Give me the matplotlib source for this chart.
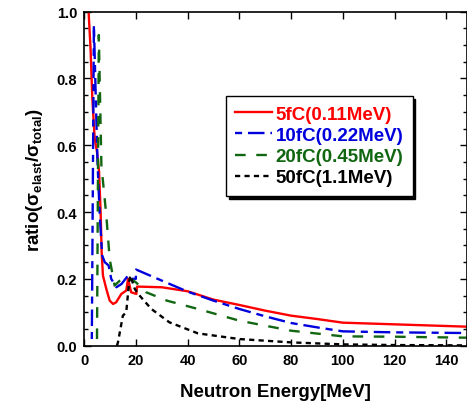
#!/usr/bin/env python3

# Import special modules ...
import matplotlib
matplotlib.use("Agg")
import matplotlib.pyplot

matplotlib.pyplot.rcParams["font.family"] = ["Liberation Sans", "DejaVu Sans"]
matplotlib.pyplot.rcParams["font.weight"] = "bold"
matplotlib.pyplot.rcParams["mathtext.fontset"] = "custom"
matplotlib.pyplot.rcParams["mathtext.rm"] = "Liberation Sans:bold"
matplotlib.pyplot.rcParams["mathtext.bf"] = "Liberation Sans:bold"

# Ratio of elastic to total cross-section versus neutron energy ...
e5 = [1.75, 2.5, 3.2, 4.1, 5.0, 5.8, 6.4, 6.8, 7.3, 8.6, 9.9, 11.2, 12.4, 14.4, 16.3, 17.0, 18.2, 20.2, 20.5, 30.0, 40.0, 50.0, 60.0, 70.0, 80.0, 90.0, 100.0, 120.0, 140.0, 148.0]
r5 = [1.00, 0.89, 0.74, 0.62, 0.58, 0.52, 0.40, 0.28, 0.21, 0.17, 0.135, 0.125, 0.13, 0.155, 0.165, 0.20, 0.16, 0.155, 0.177, 0.175, 0.163, 0.138, 0.122, 0.105, 0.090, 0.080, 0.069, 0.064, 0.059, 0.057]

e10 = [3.0, 3.8, 4.5, 5.2, 6.0, 7.0, 8.0, 9.5, 10.5, 12.5, 14.5, 17.0, 19.0, 20.0, 20.1, 30.0, 40.0, 50.0, 60.0, 70.0, 80.0, 90.0, 100.0, 120.0, 148.0]
r10 = [0.02, 0.96, 0.75, 0.55, 0.40, 0.27, 0.25, 0.24, 0.20, 0.175, 0.185, 0.21, 0.20, 0.20, 0.228, 0.195, 0.162, 0.135, 0.110, 0.088, 0.068, 0.055, 0.043, 0.040, 0.038]

e20 = [5.0, 5.7, 6.7, 8.6, 9.9, 11.8, 14.5, 17.0, 20.0, 24.0, 32.0, 44.0, 60.0, 80.0, 100.0, 120.0, 148.0]
r20 = [0.02, 0.93, 0.54, 0.39, 0.26, 0.18, 0.20, 0.205, 0.19, 0.16, 0.135, 0.11, 0.075, 0.045, 0.028, 0.027, 0.024]

e50 = [12.7, 13.1, 15.0, 16.3, 17.4, 17.9, 19.6, 20.9, 26.0, 33.0, 44.0, 60.0, 80.0, 100.0, 120.0, 148.0]
r50 = [0.0, 0.01, 0.09, 0.10, 0.19, 0.21, 0.17, 0.155, 0.11, 0.07, 0.037, 0.02, 0.01, 0.004, 0.002, 0.001]

# Create figure ...
fg = matplotlib.pyplot.figure(figsize = (4.67, 4.06), dpi = 100)
ax = fg.add_axes([0.180, 0.146, 0.820, 0.823])

# Plot series ...
ax.plot(e5, r5, color = "#ff0000", linewidth = 1.7, linestyle = "-", label = "5fC(0.11MeV)")
ax.plot(e10, r10, color = "#0000dd", linewidth = 1.7, dashes = (3, 2.5, 7, 2.5), label = "10fC(0.22MeV)")
ax.plot(e20, r20, color = "#116611", linewidth = 1.7, dashes = (4.5, 4.5), label = "20fC(0.45MeV)")
ax.plot(e50, r50, color = "#000000", linewidth = 1.7, dashes = (2.2, 1.8), label = "50fC(1.1MeV)")

# Configure axis ...
ax.set_xlim(0, 148)
ax.set_ylim(0.0, 1.0)
ax.set_xticks(range(0, 141, 20))
ax.set_yticks([0.0, 0.2, 0.4, 0.6, 0.8, 1.0])
ax.set_yticks([i * 0.05 for i in range(21)], minor = True)
ax.yaxis.set_major_formatter(matplotlib.ticker.FormatStrFormatter("%.1f"))
ax.tick_params(which = "both", direction = "in", top = True, right = True, labelsize = 10.5, width = 1.0, pad = 5)
ax.tick_params(which = "major", length = 5)
ax.tick_params(which = "minor", length = 3)
for lab in ax.get_xticklabels() + ax.get_yticklabels():
    lab.set_fontweight("bold")
for sp in ax.spines.values():
    sp.set_linewidth(1.2)
ax.set_xlabel("Neutron Energy[MeV]", fontsize = 13.5, fontweight = "bold", labelpad = 12)
ax.set_ylabel("ratio(σ$_{\\mathbf{elast}}$/σ$_{\\mathbf{total}}$)", fontsize = 13.5, fontweight = "bold", labelpad = 8)

# Legend with text coloured like its line ...
lg = ax.legend(loc = "upper left", bbox_to_anchor = (0.370, 0.747), borderaxespad = 0.0, frameon = True, fancybox = False, shadow = {"color": "black", "alpha": 1.0}, edgecolor = "black", handlelength = 1.95, handletextpad = 0.2, borderpad = 0.5, labelspacing = 0.22, prop = {"weight": "bold", "size": 13.5})
lg.get_frame().set_linewidth(1.0)
for txt, ln in zip(lg.get_texts(), lg.get_lines()):
    txt.set_color(ln.get_color())
lg.get_texts()[3].set_color("black")

# Save figure ...
fg.savefig("out.png", dpi = 100)
matplotlib.pyplot.close(fg)
